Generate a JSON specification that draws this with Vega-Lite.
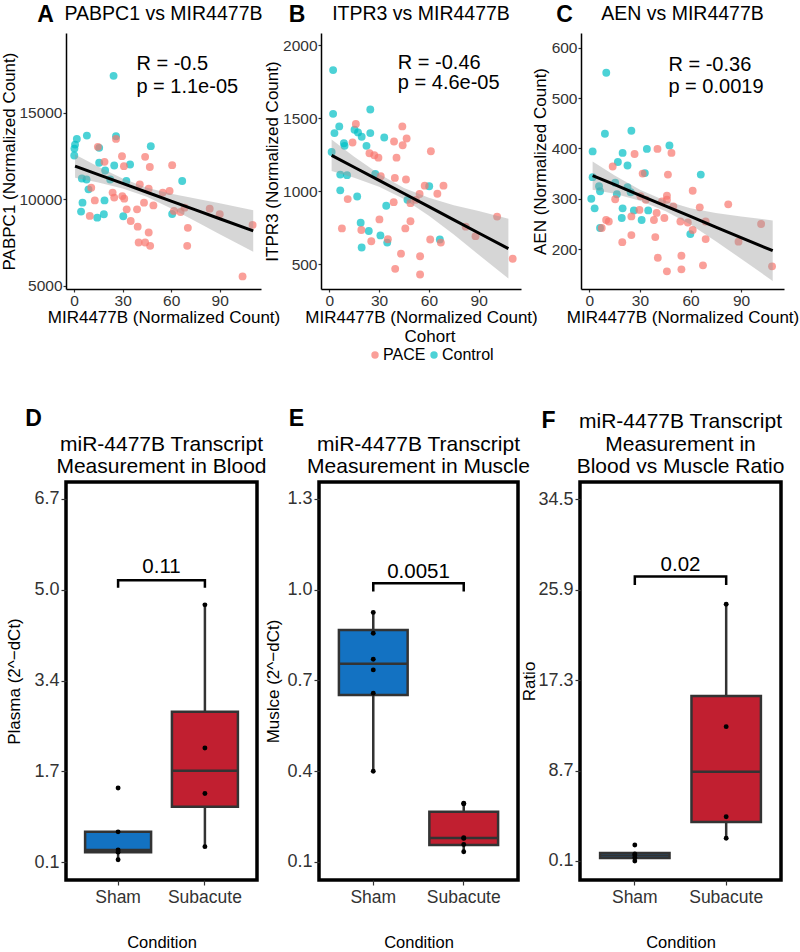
{
  "$schema": "https://vega.github.io/schema/vega-lite/v6.json",
  "background": "white",
  "autosize": {"type": "pad"},
  "padding": {"left": 0, "top": 4, "right": 0, "bottom": 0},
  "config": {
    "font": "Liberation Sans",
    "axis": {"grid": false, "labelFont": "Liberation Sans", "titleFont": "Liberation Sans", "titleFontWeight": "normal", "labelFlush": false, "labelOverlap": false, "titleColor": "black", "labelColor": "#333333", "tickColor": "#333333"},
    "title": {"font": "Liberation Sans", "color": "black", "subtitleFont": "Liberation Sans", "subtitleColor": "black"},
    "text": {"font": "Liberation Sans"}
  },
  "datasets": {
    "A_pts": [
      {"mir":24.4,"val":17150,"cohort":"Control"},{"mir":1.7,"val":13500,"cohort":"Control"},{"mir":0.6,"val":13170,"cohort":"Control"},{"mir":0.2,"val":12940,"cohort":"Control"},{"mir":0.1,"val":12540,"cohort":"Control"},{"mir":7.9,"val":13690,"cohort":"Control"},{"mir":25.9,"val":13650,"cohort":"Control"},{"mir":15.5,"val":12980,"cohort":"Control"},{"mir":15.5,"val":12120,"cohort":"Control"},{"mir":19.2,"val":11670,"cohort":"Control"},{"mir":24.8,"val":11960,"cohort":"Control"},{"mir":34.6,"val":12020,"cohort":"Control"},{"mir":47.4,"val":13080,"cohort":"Control"},{"mir":32.3,"val":11060,"cohort":"Control"},{"mir":4.8,"val":11210,"cohort":"Control"},{"mir":7.7,"val":11150,"cohort":"Control"},{"mir":8.9,"val":10580,"cohort":"Control"},{"mir":5.2,"val":9810,"cohort":"Control"},{"mir":4.3,"val":9290,"cohort":"Control"},{"mir":18.8,"val":9940,"cohort":"Control"},{"mir":14.3,"val":8940,"cohort":"Control"},{"mir":18.4,"val":9140,"cohort":"Control"},{"mir":30.4,"val":9020,"cohort":"Control"},{"mir":66.8,"val":11060,"cohort":"Control"},{"mir":60.6,"val":9150,"cohort":"Control"},{"mir":22.3,"val":11150,"cohort":"Control"},
      {"mir":25.9,"val":13500,"cohort":"PACE"},{"mir":14.7,"val":13040,"cohort":"PACE"},{"mir":18.8,"val":12170,"cohort":"PACE"},{"mir":29.6,"val":12500,"cohort":"PACE"},{"mir":43.9,"val":12460,"cohort":"PACE"},{"mir":46.8,"val":11870,"cohort":"PACE"},{"mir":60.6,"val":11980,"cohort":"PACE"},{"mir":30.8,"val":11920,"cohort":"PACE"},{"mir":10.6,"val":10670,"cohort":"PACE"},{"mir":23.8,"val":10390,"cohort":"PACE"},{"mir":24.8,"val":10100,"cohort":"PACE"},{"mir":29.8,"val":10190,"cohort":"PACE"},{"mir":31.0,"val":10040,"cohort":"PACE"},{"mir":40.6,"val":10870,"cohort":"PACE"},{"mir":46.1,"val":10620,"cohort":"PACE"},{"mir":43.2,"val":9810,"cohort":"PACE"},{"mir":49.0,"val":9650,"cohort":"PACE"},{"mir":54.8,"val":10390,"cohort":"PACE"},{"mir":59.0,"val":10480,"cohort":"PACE"},{"mir":61.7,"val":9330,"cohort":"PACE"},{"mir":68.3,"val":9520,"cohort":"PACE"},{"mir":65.8,"val":9270,"cohort":"PACE"},{"mir":83.8,"val":9460,"cohort":"PACE"},{"mir":90.0,"val":9140,"cohort":"PACE"},{"mir":110.3,"val":8520,"cohort":"PACE"},{"mir":104.1,"val":5540,"cohort":"PACE"},{"mir":69.9,"val":7310,"cohort":"PACE"},{"mir":70.3,"val":8350,"cohort":"PACE"},{"mir":32.5,"val":9420,"cohort":"PACE"},{"mir":38.9,"val":9420,"cohort":"PACE"},{"mir":35.0,"val":8750,"cohort":"PACE"},{"mir":39.3,"val":8420,"cohort":"PACE"},{"mir":46.1,"val":8080,"cohort":"PACE"},{"mir":39.9,"val":7500,"cohort":"PACE"},{"mir":43.9,"val":7500,"cohort":"PACE"},{"mir":47.0,"val":7310,"cohort":"PACE"},{"mir":12.8,"val":9940,"cohort":"PACE"},{"mir":9.7,"val":9040,"cohort":"PACE"}
    ],
    "A_fit": [
      {"mir":0.6,"fit":11923,"lo":11253,"hi":12593},{"mir":15,"fit":11432,"lo":10972,"hi":11892},{"mir":30,"fit":10921,"lo":10631,"hi":11211},{"mir":45,"fit":10410,"lo":10150,"hi":10670},{"mir":60,"fit":9899,"lo":9469,"hi":10329},{"mir":75,"fit":9389,"lo":8729,"hi":10049},{"mir":90,"fit":8878,"lo":7978,"hi":9778},{"mir":110.7,"fit":8173,"lo":6973,"hi":9373}
    ],
    "A_txt": [{"mir":38.5,"val":17850,"label":"R = -0.5"},{"mir":38.5,"val":16480,"label":"p = 1.1e-05"}],
    "B_pts": [
      {"mir":2.3,"val":1831,"cohort":"Control"},{"mir":2.3,"val":1531,"cohort":"Control"},{"mir":3.1,"val":1399,"cohort":"Control"},{"mir":6.0,"val":1445,"cohort":"Control"},{"mir":8.8,"val":1330,"cohort":"Control"},{"mir":9.2,"val":1312,"cohort":"Control"},{"mir":1.4,"val":1270,"cohort":"Control"},{"mir":6.6,"val":1115,"cohort":"Control"},{"mir":10.7,"val":1111,"cohort":"Control"},{"mir":6.6,"val":1007,"cohort":"Control"},{"mir":16.8,"val":965,"cohort":"Control"},{"mir":15.2,"val":1422,"cohort":"Control"},{"mir":17.3,"val":1404,"cohort":"Control"},{"mir":19.5,"val":1374,"cohort":"Control"},{"mir":24.7,"val":1561,"cohort":"Control"},{"mir":24.7,"val":1399,"cohort":"Control"},{"mir":22.4,"val":1312,"cohort":"Control"},{"mir":33.1,"val":1369,"cohort":"Control"},{"mir":27.7,"val":1120,"cohort":"Control"},{"mir":18.9,"val":785,"cohort":"Control"},{"mir":23.8,"val":728,"cohort":"Control"},{"mir":19.5,"val":615,"cohort":"Control"},{"mir":30.8,"val":698,"cohort":"Control"},{"mir":34.9,"val":649,"cohort":"Control"},{"mir":34.3,"val":901,"cohort":"Control"},{"mir":47.1,"val":942,"cohort":"Control"},{"mir":60.2,"val":1035,"cohort":"Control"},{"mir":66.6,"val":670,"cohort":"Control"},
      {"mir":16.0,"val":1462,"cohort":"PACE"},{"mir":14.0,"val":1335,"cohort":"PACE"},{"mir":11.1,"val":947,"cohort":"PACE"},{"mir":7.6,"val":746,"cohort":"PACE"},{"mir":24.2,"val":1261,"cohort":"PACE"},{"mir":27.1,"val":1247,"cohort":"PACE"},{"mir":29.6,"val":1231,"cohort":"PACE"},{"mir":31.0,"val":1104,"cohort":"PACE"},{"mir":39.0,"val":1342,"cohort":"PACE"},{"mir":44.2,"val":1316,"cohort":"PACE"},{"mir":44.0,"val":1445,"cohort":"PACE"},{"mir":46.6,"val":1362,"cohort":"PACE"},{"mir":40.5,"val":1231,"cohort":"PACE"},{"mir":39.5,"val":1092,"cohort":"PACE"},{"mir":46.2,"val":1081,"cohort":"PACE"},{"mir":38.8,"val":926,"cohort":"PACE"},{"mir":30.2,"val":808,"cohort":"PACE"},{"mir":35.3,"val":672,"cohort":"PACE"},{"mir":25.3,"val":658,"cohort":"PACE"},{"mir":19.3,"val":735,"cohort":"PACE"},{"mir":45.8,"val":746,"cohort":"PACE"},{"mir":48.9,"val":795,"cohort":"PACE"},{"mir":43.2,"val":573,"cohort":"PACE"},{"mir":39.7,"val":469,"cohort":"PACE"},{"mir":54.7,"val":555,"cohort":"PACE"},{"mir":54.7,"val":430,"cohort":"PACE"},{"mir":60.8,"val":670,"cohort":"PACE"},{"mir":61.2,"val":1275,"cohort":"PACE"},{"mir":65.1,"val":984,"cohort":"PACE"},{"mir":68.8,"val":1039,"cohort":"PACE"},{"mir":54.4,"val":982,"cohort":"PACE"},{"mir":57.5,"val":1039,"cohort":"PACE"},{"mir":48.9,"val":919,"cohort":"PACE"},{"mir":82.2,"val":758,"cohort":"PACE"},{"mir":88.1,"val":693,"cohort":"PACE"},{"mir":101.1,"val":827,"cohort":"PACE"},{"mir":110.5,"val":538,"cohort":"PACE"},{"mir":67.2,"val":649,"cohort":"PACE"},{"mir":52.2,"val":942,"cohort":"PACE"}
    ],
    "B_fit": [
      {"mir":1.4,"fit":1247,"lo":1139,"hi":1355},{"mir":15,"fit":1165,"lo":1093,"hi":1237},{"mir":30,"fit":1075,"lo":1031,"hi":1119},{"mir":45,"fit":985,"lo":947,"hi":1023},{"mir":60,"fit":895,"lo":833,"hi":957},{"mir":75,"fit":805,"lo":705,"hi":905},{"mir":90,"fit":715,"lo":565,"hi":865},{"mir":107.9,"fit":608,"lo":403,"hi":813}
    ],
    "B_txt": [{"mir":41.3,"val":1877,"label":"R = -0.46"},{"mir":41.3,"val":1739,"label":"p = 4.6e-05"}],
    "C_pts": [
      {"mir":10.0,"val":550,"cohort":"Control"},{"mir":9.2,"val":429,"cohort":"Control"},{"mir":1.9,"val":394,"cohort":"Control"},{"mir":24.9,"val":435,"cohort":"Control"},{"mir":19.7,"val":391,"cohort":"Control"},{"mir":16.9,"val":373,"cohort":"Control"},{"mir":22.6,"val":366,"cohort":"Control"},{"mir":34.1,"val":399,"cohort":"Control"},{"mir":47.5,"val":406,"cohort":"Control"},{"mir":66.1,"val":348,"cohort":"Control"},{"mir":32.9,"val":351,"cohort":"Control"},{"mir":1.9,"val":343,"cohort":"Control"},{"mir":5.7,"val":325,"cohort":"Control"},{"mir":6.3,"val":315,"cohort":"Control"},{"mir":15.3,"val":332,"cohort":"Control"},{"mir":22.6,"val":323,"cohort":"Control"},{"mir":16.3,"val":309,"cohort":"Control"},{"mir":24.5,"val":313,"cohort":"Control"},{"mir":1.1,"val":300,"cohort":"Control"},{"mir":3.1,"val":281,"cohort":"Control"},{"mir":19.7,"val":281,"cohort":"Control"},{"mir":19.2,"val":262,"cohort":"Control"},{"mir":26.4,"val":277,"cohort":"Control"},{"mir":31.0,"val":258,"cohort":"Control"},{"mir":34.9,"val":277,"cohort":"Control"},{"mir":6.3,"val":242,"cohort":"Control"},{"mir":59.9,"val":230,"cohort":"Control"},
      {"mir":9.9,"val":258,"cohort":"PACE"},{"mir":11.5,"val":255,"cohort":"PACE"},{"mir":7.3,"val":242,"cohort":"PACE"},{"mir":13.8,"val":364,"cohort":"PACE"},{"mir":15.3,"val":299,"cohort":"PACE"},{"mir":26.8,"val":389,"cohort":"PACE"},{"mir":31.6,"val":350,"cohort":"PACE"},{"mir":40.4,"val":399,"cohort":"PACE"},{"mir":48.7,"val":391,"cohort":"PACE"},{"mir":46.6,"val":348,"cohort":"PACE"},{"mir":46.0,"val":306,"cohort":"PACE"},{"mir":46.0,"val":298,"cohort":"PACE"},{"mir":43.1,"val":295,"cohort":"PACE"},{"mir":24.9,"val":265,"cohort":"PACE"},{"mir":24.9,"val":228,"cohort":"PACE"},{"mir":19.5,"val":214,"cohort":"PACE"},{"mir":30.3,"val":305,"cohort":"PACE"},{"mir":33.5,"val":298,"cohort":"PACE"},{"mir":29.7,"val":278,"cohort":"PACE"},{"mir":38.3,"val":258,"cohort":"PACE"},{"mir":39.9,"val":272,"cohort":"PACE"},{"mir":44.5,"val":262,"cohort":"PACE"},{"mir":49.8,"val":285,"cohort":"PACE"},{"mir":39.1,"val":224,"cohort":"PACE"},{"mir":40.6,"val":183,"cohort":"PACE"},{"mir":46.0,"val":156,"cohort":"PACE"},{"mir":54.6,"val":187,"cohort":"PACE"},{"mir":54.6,"val":160,"cohort":"PACE"},{"mir":54.0,"val":255,"cohort":"PACE"},{"mir":58.4,"val":253,"cohort":"PACE"},{"mir":61.3,"val":238,"cohort":"PACE"},{"mir":61.3,"val":316,"cohort":"PACE"},{"mir":65.5,"val":283,"cohort":"PACE"},{"mir":69.0,"val":255,"cohort":"PACE"},{"mir":69.0,"val":220,"cohort":"PACE"},{"mir":67.4,"val":168,"cohort":"PACE"},{"mir":82.4,"val":289,"cohort":"PACE"},{"mir":88.5,"val":215,"cohort":"PACE"},{"mir":101.9,"val":250,"cohort":"PACE"},{"mir":108.4,"val":166,"cohort":"PACE"}
    ],
    "C_fit": [
      {"mir":1.9,"fit":346,"lo":318,"hi":374},{"mir":15,"fit":328,"lo":310,"hi":346},{"mir":30,"fit":307,"lo":296,"hi":318},{"mir":45,"fit":286,"lo":276,"hi":296},{"mir":60,"fit":265,"lo":249,"hi":281},{"mir":75,"fit":244,"lo":216,"hi":272},{"mir":90,"fit":223,"lo":181,"hi":265},{"mir":108.8,"fit":197,"lo":137,"hi":257}
    ],
    "C_txt": [{"mir":46.9,"val":566,"label":"R = -0.36"},{"mir":46.9,"val":522,"label":"p = 0.0019"}],
    "D_box": [{"cond":"Sham","lo":0.12,"q1":0.26,"med":0.30,"q3":0.63,"hi":0.63},{"cond":"Subacute","lo":0.36,"q1":1.09,"med":1.745,"q3":2.82,"hi":4.77}],
    "D_pts": [{"cond":"Sham","v":1.43},{"cond":"Sham","v":0.63},{"cond":"Sham","v":0.30},{"cond":"Sham","v":0.26},{"cond":"Sham","v":0.12},{"cond":"Subacute","v":4.77},{"cond":"Subacute","v":2.16},{"cond":"Subacute","v":1.33},{"cond":"Subacute","v":0.36}],
    "D_br": [{"cond":"Sham","v":5.08,"o":1},{"cond":"Sham","v":5.22,"o":2},{"cond":"Subacute","v":5.22,"o":3},{"cond":"Subacute","v":5.08,"o":4}],
    "D_p": [{"mid":1.5,"v":5.46,"label":"0.11"}],
    "E_box": [{"cond":"Sham","lo":0.404,"q1":0.652,"med":0.755,"q3":0.867,"hi":0.927},{"cond":"Subacute","lo":0.134,"q1":0.156,"med":0.179,"q3":0.266,"hi":0.294}],
    "E_pts": [{"cond":"Sham","v":0.925},{"cond":"Sham","v":0.856},{"cond":"Sham","v":0.770},{"cond":"Sham","v":0.735},{"cond":"Sham","v":0.658},{"cond":"Sham","v":0.40},{"cond":"Subacute","v":0.294},{"cond":"Subacute","v":0.292},{"cond":"Subacute","v":0.18},{"cond":"Subacute","v":0.178},{"cond":"Subacute","v":0.158},{"cond":"Subacute","v":0.134}],
    "E_br": [{"cond":"Sham","v":0.994,"o":1},{"cond":"Sham","v":1.021,"o":2},{"cond":"Subacute","v":1.021,"o":3},{"cond":"Subacute","v":0.994,"o":4}],
    "E_p": [{"mid":1.5,"v":1.06,"label":"0.0051"}],
    "F_box": [{"cond":"Sham","lo":0.1,"q1":0.38,"med":0.62,"q3":0.85,"hi":0.85},{"cond":"Subacute","lo":2.26,"q1":3.80,"med":8.59,"q3":15.78,"hi":24.5}],
    "F_pts": [{"cond":"Sham","v":1.62},{"cond":"Sham","v":0.77},{"cond":"Sham","v":0.67},{"cond":"Sham","v":0.41},{"cond":"Sham","v":0.1},{"cond":"Subacute","v":24.5},{"cond":"Subacute","v":12.87},{"cond":"Subacute","v":4.31},{"cond":"Subacute","v":2.26}],
    "F_br": [{"cond":"Sham","v":26.34,"o":1},{"cond":"Sham","v":27.13,"o":2},{"cond":"Subacute","v":27.13,"o":3},{"cond":"Subacute","v":26.34,"o":4}],
    "F_p": [{"mid":1.5,"v":28.2,"label":"0.02"}]
  },
  "vconcat": [
    {
      "hconcat": [
        {
          "width": 195, "height": 256,
          "view": {"stroke": null},
          "title": {"text": "A", "subtitle": "PABPC1 vs MIR4477B", "anchor": "middle", "frame": "group", "fontSize": 23, "fontWeight": "bold", "subtitleFontSize": 19.5, "subtitlePadding": -22, "offset": 6, "encoding": {"dx": {"value": -118}}},
          "layer": [
            {"data": {"name": "A_pts"}, "mark": {"type": "circle", "size": 62, "opacity": 0.7},
             "encoding": {
               "x": {"field": "mir", "type": "quantitative", "title": "MIR4477B (Normalized Count)", "scale": {"domain": [-5, 115.5], "nice": false, "zero": false}, "axis": {"values": [0, 30, 60, 90], "domainColor": "black", "domainWidth": 1.5, "tickSize": 3, "tickWidth": 1.2, "labelFontSize": 15.5, "labelPadding": 1, "titleFontSize": 17, "titlePadding": 1}},
               "y": {"field": "val", "type": "quantitative", "title": "PABPC1 (Normalized Count)", "scale": {"domain": [4810, 19630], "nice": false, "zero": false}, "axis": {"values": [5000, 10000, 15000], "format": "d", "domainColor": "black", "domainWidth": 1.5, "tickSize": 3, "tickWidth": 1.2, "labelFontSize": 15.5, "labelPadding": 1, "titleFontSize": 17, "titlePadding": 0}},
               "color": {"field": "cohort", "type": "nominal", "scale": {"domain": ["PACE", "Control"], "range": ["#F8766D", "#00BFC4"]}, "legend": null}
             }},
            {"data": {"name": "A_fit"}, "mark": {"type": "area", "color": "#999999", "opacity": 0.4},
             "encoding": {"x": {"field": "mir", "type": "quantitative", "title": "MIR4477B (Normalized Count)"}, "y": {"field": "lo", "type": "quantitative", "title": "PABPC1 (Normalized Count)"}, "y2": {"field": "hi"}}},
            {"data": {"name": "A_fit"}, "mark": {"type": "line", "color": "black", "strokeWidth": 3},
             "encoding": {"x": {"field": "mir", "type": "quantitative", "title": "MIR4477B (Normalized Count)"}, "y": {"field": "fit", "type": "quantitative", "title": "PABPC1 (Normalized Count)"}}},
            {"data": {"name": "A_txt"}, "mark": {"type": "text", "align": "left", "baseline": "middle", "fontSize": 20, "color": "black"},
             "encoding": {"x": {"field": "mir", "type": "quantitative", "title": "MIR4477B (Normalized Count)"}, "y": {"field": "val", "type": "quantitative", "title": "PABPC1 (Normalized Count)"}, "text": {"field": "label"}}}
          ]
        },
        {
          "width": 200, "height": 256,
          "view": {"stroke": null},
          "title": {"text": "B", "subtitle": "ITPR3 vs MIR4477B", "anchor": "middle", "frame": "group", "fontSize": 23, "fontWeight": "bold", "subtitleFontSize": 19.5, "subtitlePadding": -22, "offset": 6, "encoding": {"dx": {"value": -124}}},
          "layer": [
            {"data": {"name": "B_pts"}, "mark": {"type": "circle", "size": 62, "opacity": 0.7},
             "encoding": {
               "x": {"field": "mir", "type": "quantitative", "title": "MIR4477B (Normalized Count)", "scale": {"domain": [-5, 115.5], "nice": false, "zero": false}, "axis": {"values": [0, 30, 60, 90], "domainColor": "black", "domainWidth": 1.5, "tickSize": 3, "tickWidth": 1.2, "labelFontSize": 15.5, "labelPadding": 1, "titleFontSize": 17, "titlePadding": 1}},
               "y": {"field": "val", "type": "quantitative", "title": "ITPR3 (Normalized Count)", "scale": {"domain": [331, 2085], "nice": false, "zero": false}, "axis": {"values": [500, 1000, 1500, 2000], "format": "d", "domainColor": "black", "domainWidth": 1.5, "tickSize": 3, "tickWidth": 1.2, "labelFontSize": 15.5, "labelPadding": 1, "titleFontSize": 17, "titlePadding": 1}},
               "color": {"field": "cohort", "type": "nominal", "scale": {"domain": ["PACE", "Control"], "range": ["#F8766D", "#00BFC4"]},
                 "legend": {"title": "Cohort", "orient": "none", "legendX": 46, "legendY": 296, "direction": "horizontal", "titleAnchor": "middle", "titleFontSize": 17, "titleFontWeight": "normal", "titleColor": "black", "labelFontSize": 16, "labelColor": "black", "symbolType": "circle", "symbolSize": 55, "symbolOpacity": 0.7, "symbolStrokeWidth": 0, "labelOffset": 0, "columnPadding": 0, "padding": 0, "titlePadding": 1}}
             }},
            {"data": {"name": "B_fit"}, "mark": {"type": "area", "color": "#999999", "opacity": 0.4},
             "encoding": {"x": {"field": "mir", "type": "quantitative", "title": "MIR4477B (Normalized Count)"}, "y": {"field": "lo", "type": "quantitative", "title": "ITPR3 (Normalized Count)"}, "y2": {"field": "hi"}}},
            {"data": {"name": "B_fit"}, "mark": {"type": "line", "color": "black", "strokeWidth": 3},
             "encoding": {"x": {"field": "mir", "type": "quantitative", "title": "MIR4477B (Normalized Count)"}, "y": {"field": "fit", "type": "quantitative", "title": "ITPR3 (Normalized Count)"}}},
            {"data": {"name": "B_txt"}, "mark": {"type": "text", "align": "left", "baseline": "middle", "fontSize": 20, "color": "black"},
             "encoding": {"x": {"field": "mir", "type": "quantitative", "title": "MIR4477B (Normalized Count)"}, "y": {"field": "val", "type": "quantitative", "title": "ITPR3 (Normalized Count)"}, "text": {"field": "label"}}}
          ]
        },
        {
          "width": 203, "height": 256,
          "view": {"stroke": null},
          "title": {"text": "C", "subtitle": "AEN vs MIR4477B", "anchor": "middle", "frame": "group", "fontSize": 23, "fontWeight": "bold", "subtitleFontSize": 19.5, "subtitlePadding": -22, "offset": 6, "encoding": {"dx": {"value": -118}}},
          "layer": [
            {"data": {"name": "C_pts"}, "mark": {"type": "circle", "size": 62, "opacity": 0.7},
             "encoding": {
               "x": {"field": "mir", "type": "quantitative", "title": "MIR4477B (Normalized Count)", "scale": {"domain": [-5, 115.5], "nice": false, "zero": false}, "axis": {"values": [0, 30, 60, 90], "domainColor": "black", "domainWidth": 1.5, "tickSize": 3, "tickWidth": 1.2, "labelFontSize": 15.5, "labelPadding": 1, "titleFontSize": 17, "titlePadding": 1}},
               "y": {"field": "val", "type": "quantitative", "title": "AEN (Normalized Count)", "scale": {"domain": [121, 629], "nice": false, "zero": false}, "axis": {"values": [200, 300, 400, 500, 600], "format": "d", "domainColor": "black", "domainWidth": 1.5, "tickSize": 3, "tickWidth": 1.2, "labelFontSize": 15.5, "labelPadding": 1, "titleFontSize": 17, "titlePadding": 2}},
               "color": {"field": "cohort", "type": "nominal", "scale": {"domain": ["PACE", "Control"], "range": ["#F8766D", "#00BFC4"]}, "legend": null}
             }},
            {"data": {"name": "C_fit"}, "mark": {"type": "area", "color": "#999999", "opacity": 0.4},
             "encoding": {"x": {"field": "mir", "type": "quantitative", "title": "MIR4477B (Normalized Count)"}, "y": {"field": "lo", "type": "quantitative", "title": "AEN (Normalized Count)"}, "y2": {"field": "hi"}}},
            {"data": {"name": "C_fit"}, "mark": {"type": "line", "color": "black", "strokeWidth": 3},
             "encoding": {"x": {"field": "mir", "type": "quantitative", "title": "MIR4477B (Normalized Count)"}, "y": {"field": "fit", "type": "quantitative", "title": "AEN (Normalized Count)"}}},
            {"data": {"name": "C_txt"}, "mark": {"type": "text", "align": "left", "baseline": "middle", "fontSize": 20, "color": "black"},
             "encoding": {"x": {"field": "mir", "type": "quantitative", "title": "MIR4477B (Normalized Count)"}, "y": {"field": "val", "type": "quantitative", "title": "AEN (Normalized Count)"}, "text": {"field": "label"}}}
          ]
        }
      ],
      "spacing": 60,
      "bounds": "flush",
      "resolve": {"scale": {"color": "independent"}}
    },
    {
      "hconcat": [
        {
          "width": 191, "height": 398,
          "view": {"stroke": "black", "strokeWidth": 3.5},
          "title": {"text": "D", "subtitle": ["miR-4477B Transcript", "Measurement in Blood"], "anchor": "middle", "frame": "group", "fontSize": 23, "fontWeight": "bold", "subtitleFontSize": 21, "subtitleLineHeight": 22.5, "subtitlePadding": 3, "offset": 5, "encoding": {"dx": {"value": -128}}},
          "layer": [
            {"layer": [
              {"data": {"name": "D_box"}, "mark": {"type": "rule", "color": "#333333", "strokeWidth": 2.5},
               "encoding": {
                 "x": {"field": "cond", "type": "nominal", "title": "Condition", "scale": {"domain": ["Sham", "Subacute"], "paddingInner": 0, "paddingOuter": 0.1}, "axis": {"domain": false, "tickSize": 5, "tickWidth": 1.2, "labelFontSize": 17.5, "labelAngle": 0, "labelPadding": 3, "titleFontSize": 16.5, "titlePadding": 29}},
                 "y": {"field": "lo", "type": "quantitative", "title": "Plasma (2^−dCt)", "scale": {"domain": [-0.248, 7.01], "nice": false, "zero": false}, "axis": {"values": [0.08, 1.735, 3.39, 5.045, 6.7], "format": ".1f", "domain": false, "tickSize": 5, "tickWidth": 1.2, "labelFontSize": 18, "labelPadding": 2, "titleFontSize": 17, "titlePadding": 10}},
                 "y2": {"field": "hi"}
               }},
              {"data": {"name": "D_box"}, "mark": {"type": "bar", "stroke": "#333333", "strokeWidth": 2.5, "width": {"band": 0.76}},
               "encoding": {"x": {"field": "cond", "type": "nominal", "title": "Condition"}, "y": {"field": "q1", "type": "quantitative", "title": "Plasma (2^−dCt)"}, "y2": {"field": "q3"},
                 "fill": {"field": "cond", "type": "nominal", "scale": {"domain": ["Sham", "Subacute"], "range": ["#1372C2", "#C11F30"]}, "legend": null}}},
              {"data": {"name": "D_box"}, "mark": {"type": "tick", "color": "#333333", "thickness": 2.5, "size": 66, "opacity": 1},
               "encoding": {"x": {"field": "cond", "type": "nominal", "title": "Condition"}, "y": {"field": "med", "type": "quantitative", "title": "Plasma (2^−dCt)"}}},
              {"data": {"name": "D_pts"}, "mark": {"type": "circle", "size": 24, "color": "black", "opacity": 1},
               "encoding": {"x": {"field": "cond", "type": "nominal", "title": "Condition"}, "y": {"field": "v", "type": "quantitative", "title": "Plasma (2^−dCt)"}}},
              {"data": {"name": "D_br"}, "mark": {"type": "line", "color": "black", "strokeWidth": 2.5},
               "encoding": {"x": {"field": "cond", "type": "nominal", "title": "Condition"}, "y": {"field": "v", "type": "quantitative", "title": "Plasma (2^−dCt)"}, "order": {"field": "o", "type": "quantitative"}}}
            ]},
            {"data": {"name": "D_p"}, "mark": {"type": "text", "fontSize": 20.5, "align": "center", "baseline": "middle", "color": "black"},
             "encoding": {"x": {"field": "mid", "type": "quantitative", "scale": {"domain": [0.4, 2.6], "nice": false, "zero": false}, "axis": null}, "y": {"field": "v", "type": "quantitative", "title": "Plasma (2^−dCt)"}, "text": {"field": "label"}}}
          ],
          "resolve": {"scale": {"x": "independent"}}
        },
        {
          "width": 199, "height": 398,
          "view": {"stroke": "black", "strokeWidth": 3.5},
          "title": {"text": "E", "subtitle": ["miR-4477B Transcript", "Measurement in Muscle"], "anchor": "middle", "frame": "group", "fontSize": 23, "fontWeight": "bold", "subtitleFontSize": 21, "subtitleLineHeight": 22.5, "subtitlePadding": 3, "offset": 5, "encoding": {"dx": {"value": -122}}},
          "layer": [
            {"layer": [
              {"data": {"name": "E_box"}, "mark": {"type": "rule", "color": "#333333", "strokeWidth": 2.5},
               "encoding": {
                 "x": {"field": "cond", "type": "nominal", "title": "Condition", "scale": {"domain": ["Sham", "Subacute"], "paddingInner": 0, "paddingOuter": 0.1}, "axis": {"domain": false, "tickSize": 5, "tickWidth": 1.2, "labelFontSize": 17.5, "labelAngle": 0, "labelPadding": 3, "titleFontSize": 16.5, "titlePadding": 29}},
                 "y": {"field": "lo", "type": "quantitative", "title": "Muslce (2^−dCt)", "scale": {"domain": [0.0405, 1.356], "nice": false, "zero": false}, "axis": {"values": [0.1, 0.4, 0.7, 1.0, 1.3], "format": ".1f", "domain": false, "tickSize": 5, "tickWidth": 1.2, "labelFontSize": 18, "labelPadding": 2, "titleFontSize": 17, "titlePadding": 4}},
                 "y2": {"field": "hi"}
               }},
              {"data": {"name": "E_box"}, "mark": {"type": "bar", "stroke": "#333333", "strokeWidth": 2.5, "width": {"band": 0.76}},
               "encoding": {"x": {"field": "cond", "type": "nominal", "title": "Condition"}, "y": {"field": "q1", "type": "quantitative", "title": "Muslce (2^−dCt)"}, "y2": {"field": "q3"},
                 "fill": {"field": "cond", "type": "nominal", "scale": {"domain": ["Sham", "Subacute"], "range": ["#1372C2", "#C11F30"]}, "legend": null}}},
              {"data": {"name": "E_box"}, "mark": {"type": "tick", "color": "#333333", "thickness": 2.5, "size": 69, "opacity": 1},
               "encoding": {"x": {"field": "cond", "type": "nominal", "title": "Condition"}, "y": {"field": "med", "type": "quantitative", "title": "Muslce (2^−dCt)"}}},
              {"data": {"name": "E_pts"}, "mark": {"type": "circle", "size": 24, "color": "black", "opacity": 1},
               "encoding": {"x": {"field": "cond", "type": "nominal", "title": "Condition"}, "y": {"field": "v", "type": "quantitative", "title": "Muslce (2^−dCt)"}}},
              {"data": {"name": "E_br"}, "mark": {"type": "line", "color": "black", "strokeWidth": 2.5},
               "encoding": {"x": {"field": "cond", "type": "nominal", "title": "Condition"}, "y": {"field": "v", "type": "quantitative", "title": "Muslce (2^−dCt)"}, "order": {"field": "o", "type": "quantitative"}}}
            ]},
            {"data": {"name": "E_p"}, "mark": {"type": "text", "fontSize": 20.5, "align": "center", "baseline": "middle", "color": "black"},
             "encoding": {"x": {"field": "mid", "type": "quantitative", "scale": {"domain": [0.4, 2.6], "nice": false, "zero": false}, "axis": null}, "y": {"field": "v", "type": "quantitative", "title": "Muslce (2^−dCt)"}, "text": {"field": "label"}}}
          ],
          "resolve": {"scale": {"x": "independent"}}
        },
        {
          "width": 201, "height": 398,
          "view": {"stroke": "black", "strokeWidth": 3.5},
          "title": {"text": "F", "subtitle": ["miR-4477B Transcript", "Measurement in", "Blood vs Muscle Ratio"], "anchor": "middle", "frame": "group", "fontSize": 23, "fontWeight": "bold", "subtitleFontSize": 21, "subtitleLineHeight": 22.5, "subtitlePadding": -22, "offset": 5, "encoding": {"dx": {"value": -132}}},
          "layer": [
            {"layer": [
              {"data": {"name": "F_box"}, "mark": {"type": "rule", "color": "#333333", "strokeWidth": 2.5},
               "encoding": {
                 "x": {"field": "cond", "type": "nominal", "title": "Condition", "scale": {"domain": ["Sham", "Subacute"], "paddingInner": 0, "paddingOuter": 0.1}, "axis": {"domain": false, "tickSize": 5, "tickWidth": 1.2, "labelFontSize": 17.5, "labelAngle": 0, "labelPadding": 3, "titleFontSize": 16.5, "titlePadding": 29}},
                 "y": {"field": "lo", "type": "quantitative", "title": "Ratio", "scale": {"domain": [-1.706, 36.12], "nice": false, "zero": false}, "axis": {"values": [0.1, 8.7, 17.3, 25.9, 34.5], "format": ".1f", "domain": false, "tickSize": 5, "tickWidth": 1.2, "labelFontSize": 18, "labelPadding": 2, "titleFontSize": 17, "titlePadding": -1}},
                 "y2": {"field": "hi"}
               }},
              {"data": {"name": "F_box"}, "mark": {"type": "bar", "stroke": "#333333", "strokeWidth": 2.5, "width": {"band": 0.76}},
               "encoding": {"x": {"field": "cond", "type": "nominal", "title": "Condition"}, "y": {"field": "q1", "type": "quantitative", "title": "Ratio"}, "y2": {"field": "q3"},
                 "fill": {"field": "cond", "type": "nominal", "scale": {"domain": ["Sham", "Subacute"], "range": ["#1372C2", "#C11F30"]}, "legend": null}}},
              {"data": {"name": "F_box"}, "mark": {"type": "tick", "color": "#333333", "thickness": 2.5, "size": 70, "opacity": 1},
               "encoding": {"x": {"field": "cond", "type": "nominal", "title": "Condition"}, "y": {"field": "med", "type": "quantitative", "title": "Ratio"}}},
              {"data": {"name": "F_pts"}, "mark": {"type": "circle", "size": 24, "color": "black", "opacity": 1},
               "encoding": {"x": {"field": "cond", "type": "nominal", "title": "Condition"}, "y": {"field": "v", "type": "quantitative", "title": "Ratio"}}},
              {"data": {"name": "F_br"}, "mark": {"type": "line", "color": "black", "strokeWidth": 2.5},
               "encoding": {"x": {"field": "cond", "type": "nominal", "title": "Condition"}, "y": {"field": "v", "type": "quantitative", "title": "Ratio"}, "order": {"field": "o", "type": "quantitative"}}}
            ]},
            {"data": {"name": "F_p"}, "mark": {"type": "text", "fontSize": 20.5, "align": "center", "baseline": "middle", "color": "black"},
             "encoding": {"x": {"field": "mid", "type": "quantitative", "scale": {"domain": [0.4, 2.6], "nice": false, "zero": false}, "axis": null}, "y": {"field": "v", "type": "quantitative", "title": "Ratio"}, "text": {"field": "label"}}}
          ],
          "resolve": {"scale": {"x": "independent"}}
        }
      ],
      "spacing": 62,
      "bounds": "flush"
    }
  ],
  "spacing": 449,
  "bounds": "flush"
}
